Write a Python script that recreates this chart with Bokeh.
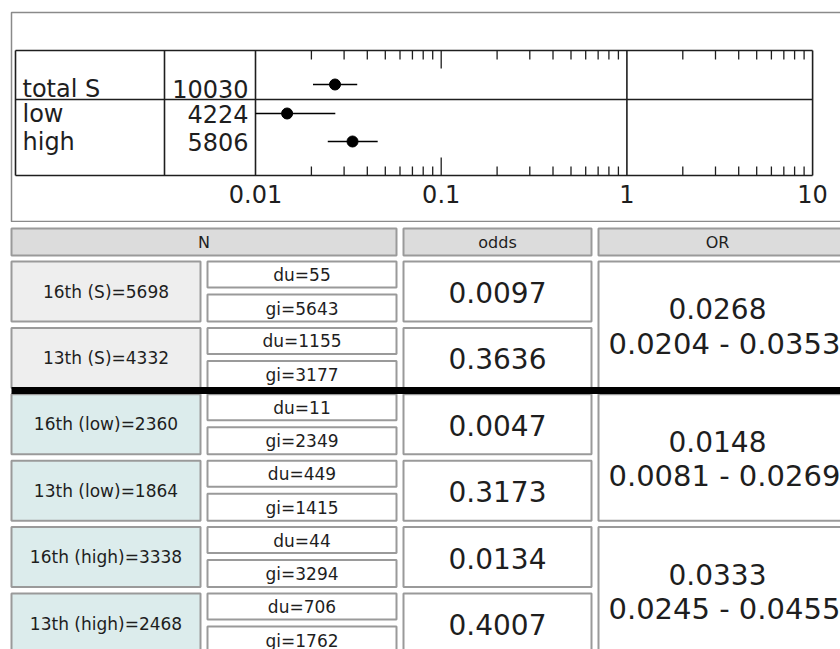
import numpy as np
from bokeh.plotting import figure
from bokeh.layouts import column
from bokeh.models import Range1d
from bokeh.core.properties import value
from bokeh.embed import file_html
from bokeh.resources import INLINE

# ---------------- data ----------------
forest_labels = ["total S", "low", "high"]
forest_n = [10030, 4224, 5806]
forest_or = [0.0268, 0.0148, 0.0333]
forest_lo = [0.0204, 0.0081, 0.0245]
forest_hi = [0.0353, 0.0269, 0.0455]

axis_major = [0.01, 0.1, 1, 10]
axis_labels = ["0.01", "0.1", "1", "10"]
axis_minor = [0.02, 0.03, 0.04, 0.05, 0.06, 0.07, 0.08, 0.09,
              0.2, 0.3, 0.4, 0.5, 0.6, 0.7, 0.8, 0.9,
              2, 3, 4, 5, 6, 7, 8, 9]

headers = ["N", "odds", "OR"]
row_labels = ["16th (S)=5698", "13th (S)=4332", "16th (low)=2360",
              "13th (low)=1864", "16th (high)=3338", "13th (high)=2468"]
row_group = ["S", "S", "low", "low", "high", "high"]
du_vals = [55, 1155, 11, 449, 44, 706]
gi_vals = [5643, 3177, 2349, 1415, 3294, 1762]
odds_vals = [0.0097, 0.3636, 0.0047, 0.3173, 0.0134, 0.4007]
or_vals = [0.0268, 0.0148, 0.0333]
or_lo = [0.0204, 0.0081, 0.0245]
or_hi = [0.0353, 0.0269, 0.0455]

FONT = value("DejaVu Sans")
INK = "#1e1e1e"
BORDER = "#9a9a9a"

# ---------------- top: forest plot ----------------
W = 840
TOP_H = 222
PX_PER_DEC = 185.7
L0 = -2 - 255 / PX_PER_DEC
L1 = L0 + W / PX_PER_DEC
XMIN = 10 ** -2


def px2x(px):
    return 10 ** (L0 + px / PX_PER_DEC)


p1 = figure(width=W, height=TOP_H, x_axis_type="log",
            x_range=Range1d(10 ** L0, 10 ** L1), y_range=Range1d(TOP_H, 0),
            output_backend="svg", toolbar_location=None,
            min_border=0, outline_line_color=None)
p1.axis.visible = False
p1.grid.visible = False

# outer gray box
p1.line([px2x(870), px2x(11), px2x(11), px2x(870)], [12, 12, 221, 221],
        line_color="#8a8a8a", line_width=1.5)

x_left, x_c1 = px2x(15), px2x(164)
x_right = axis_major[-1]
y_top, y_sep, y_bot = 50, 99, 175
p1.segment(x0=[x_left] * 3, x1=[x_right] * 3, y0=[y_top, y_sep, y_bot],
           y1=[y_top, y_sep, y_bot], line_color=INK, line_width=1.6)
p1.segment(x0=[x_left, x_c1, axis_major[0], 1, x_right],
           x1=[x_left, x_c1, axis_major[0], 1, x_right],
           y0=[y_top] * 5, y1=[y_bot] * 5, line_color=INK, line_width=1.6)
# ticks
n_min = len(axis_minor)
p1.segment(x0=axis_minor, x1=axis_minor, y0=[y_top] * n_min,
           y1=[y_top + 9] * n_min, line_color=INK, line_width=1.3)
p1.segment(x0=axis_minor, x1=axis_minor, y0=[y_bot] * n_min,
           y1=[y_bot - 9] * n_min, line_color=INK, line_width=1.3)
p1.segment(x0=[0.1], x1=[0.1], y0=[y_top], y1=[y_top + 18], line_color=INK, line_width=1.3)
p1.segment(x0=[0.1], x1=[0.1], y0=[y_bot], y1=[y_bot - 18], line_color=INK, line_width=1.3)

p1.text(x=axis_major, y=[193] * 4, text=axis_labels, text_font=FONT,
        text_font_size="24px", text_align="center", text_baseline="middle",
        text_color=INK)

row_y = [84, 113, 141]
label_y = [88, 113, 141]
p1.text(x=[px2x(22)] * 3, y=label_y, text=forest_labels, text_font=FONT,
        text_font_size="24px", text_align="left", text_baseline="middle",
        text_color=INK)
p1.text(x=[px2x(248)] * 3, y=label_y, text=[str(n) for n in forest_n], text_font=FONT,
        text_font_size="24px", text_align="right", text_baseline="middle",
        text_color=INK)

ci_lo = [max(v, XMIN) for v in forest_lo]
p1.segment(x0=ci_lo, x1=forest_hi, y0=row_y, y1=row_y, line_color="black", line_width=1.6)
p1.scatter(x=forest_or, y=row_y, size=11, color="black")

# ---------------- bottom: table ----------------
p2 = figure(width=W, height=649 - TOP_H, x_range=Range1d(0, W), y_range=Range1d(649, TOP_H),
            output_backend="svg", toolbar_location=None,
            min_border=0, outline_line_color=None)
p2.axis.visible = False
p2.grid.visible = False


def box(fig, x0, x1, y0, y1, fill):
    fig.quad(left=[x0], right=[x1], top=[y0], bottom=[y1], fill_color=fill,
             line_color=BORDER, line_width=2)


hdr_x = [(11, 396), (403, 591), (598, 870)]
for (a, b) in hdr_x:
    box(p2, a, b, 228, 255, "#dcdcdc")
p2.text(x=[203.5, 497, 717], y=[242, 242, 242], text=headers, text_font=FONT,
        text_font_size="16px", text_align="center", text_baseline="middle",
        text_color=INK)

PITCH = 66.4
starts = [261 + i * PITCH for i in range(len(row_labels))]
fills = {"S": "#eeeeee", "low": "#dcecec", "high": "#dcecec"}
for s, g in zip(starts, row_group):
    box(p2, 11, 200, s, s + 60, fills[g])
    box(p2, 207, 396, s, s + 26, "white")
    box(p2, 207, 396, s + 33, s + 60, "white")
    box(p2, 403, 591, s, s + 60, "white")

for gi in range(len(or_vals)):
    s0 = starts[2 * gi]
    s1 = starts[2 * gi + 1] + 60
    box(p2, 598, 870, s0, s1, "white")

p2.text(x=[105.5] * 6, y=[s + 30 for s in starts], text=row_labels, text_font=FONT,
        text_font_size="17px", text_align="center", text_baseline="middle",
        text_color=INK)
p2.text(x=[301.5] * 6, y=[s + 13.5 for s in starts], text=[f"du={v}" for v in du_vals],
        text_font=FONT, text_font_size="17px", text_align="center",
        text_baseline="middle", text_color=INK)
p2.text(x=[301.5] * 6, y=[s + 47 for s in starts], text=[f"gi={v}" for v in gi_vals],
        text_font=FONT, text_font_size="17px", text_align="center",
        text_baseline="middle", text_color=INK)
p2.text(x=[497] * 6, y=[s + 31 for s in starts], text=[f"{v:.4f}" for v in odds_vals],
        text_font=FONT, text_font_size="28px", text_align="center",
        text_baseline="middle", text_color=INK)

g_starts = [starts[2 * i] for i in range(len(or_vals))]
p2.text(x=[717] * 3, y=[s + 47 for s in g_starts], text=[f"{v:.4f}" for v in or_vals],
        text_font=FONT, text_font_size="28px", text_align="center",
        text_baseline="middle", text_color=INK)
p2.text(x=[608] * 3, y=[s + 82 for s in g_starts],
        text=[f"{a:.4f} - {b:.4f}" for a, b in zip(or_lo, or_hi)],
        text_font=FONT, text_font_size="29px", text_align="left",
        text_baseline="middle", text_color=INK)

p2.segment(x0=[11], x1=[870], y0=[390], y1=[390], line_color="black", line_width=7)

layout = column(p1, p2, spacing=0)
open("out.html", "w").write(file_html(layout, INLINE))
